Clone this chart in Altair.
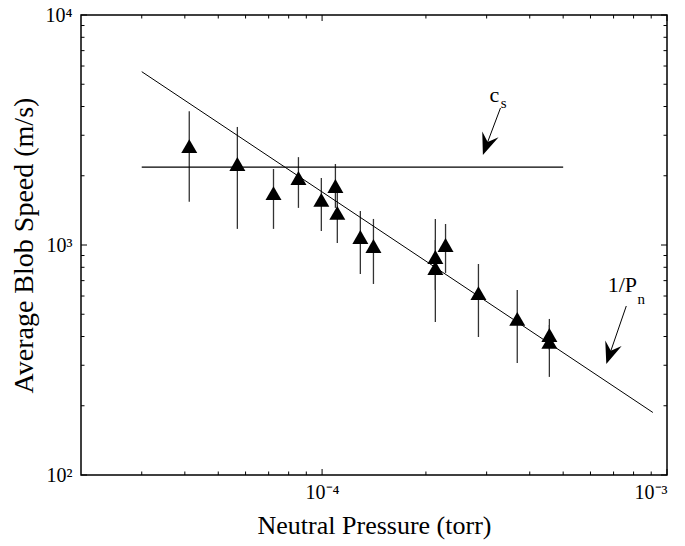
import altair as alt
import pandas as pd

# ---- data ----
pressure = [4.12e-5, 5.68e-5, 7.23e-5, 8.54e-5, 9.95e-5, 1.093e-4, 1.107e-4, 1.291e-4,
            1.409e-4, 2.13e-4, 2.13e-4, 2.28e-4, 2.84e-4, 3.68e-4, 4.56e-4, 4.56e-4]
speed    = [2690, 2250, 1680, 1955, 1570, 1805, 1380, 1083, 990, 887, 794, 1000, 618, 477, 406, 379]
speed_lo = [1540, 1175, 1175, 1450, 1150, 1450, 1020, 748, 677, 637, 463, 756, 398, 307, 350, 267]
speed_hi = [3820, 3260, 2140, 2410, 1955, 2250, 1734, 1406, 1298, 1298, 1051, 1234, 827, 637, 477, 449]

cs_x = [3.0e-5, 5.0e-4]
cs_y = [2180, 2180]
pn_x = [3.0e-5, 9.1e-4]
pn_y = [5670, 187]

x_major = [1e-4, 1e-3]
x_minor = [3e-5, 4e-5, 5e-5, 6e-5, 7e-5, 8e-5, 9e-5,
           2e-4, 3e-4, 4e-4, 5e-4, 6e-4, 7e-4, 8e-4, 9e-4]
y_major = [100, 1000, 10000]
y_minor = [200, 300, 400, 500, 600, 700, 800, 900,
           2000, 3000, 4000, 5000, 6000, 7000, 8000, 9000]

# annotations (arrow shafts, arrowheads, labels)
arrow_x0 = [3.29e-4, 7.62e-4]
arrow_y0 = [3942, 543]
arrow_x1 = [3.0e-4, 6.83e-4]
arrow_y1 = [2729, 337]
arrow_angle = [20, 19]
lab_main = ["c", "1/P"]
lab_main_x = [3.16e-4, 7.42e-4]
lab_main_y = [4489, 670]
lab_sub = ["s", "n"]
lab_sub_x = [3.36e-4, 8.42e-4]
lab_sub_y = [4143, 582]

W, H = 586, 460
FONT = "Liberation Serif"
XS = alt.Scale(type="log", domain=[2e-5, 1e-3])
YS = alt.Scale(type="log", domain=[100, 10000])

X_AXIS = alt.Axis(values=x_major, title="Neutral Pressure (torr)", grid=False, domain=False,
                  ticks=False, labelFont=FONT, labelFontSize=20, labelColor="black",
                  labelPadding=7, labelOverlap=False,
                  labelExpr="datum.value < 5e-4 ? '10⁻⁴' : '10⁻³'",
                  titleFont=FONT, titleFontSize=26, titleFontWeight="normal", titleColor="black",
                  titleX=W / 2, titleY=50, titleBaseline="middle", titleAlign="center")
Y_AXIS = alt.Axis(values=y_major, title="Average Blob Speed (m/s)", grid=False, domain=False,
                  ticks=False, labelFont=FONT, labelFontSize=20, labelColor="black",
                  labelPadding=9, labelOverlap=False,
                  labelExpr="datum.value < 500 ? '10²' : (datum.value < 5000 ? '10³' : '10⁴')",
                  titleFont=FONT, titleFontSize=28, titleFontWeight="normal", titleColor="black",
                  titleX=-57, titleY=H / 2, titleAngle=270, titleBaseline="middle",
                  titleAlign="center")


def X(field):
    return alt.X(field, scale=XS, axis=X_AXIS)


def Y(field):
    return alt.Y(field, scale=YS, axis=Y_AXIS)


pts = pd.DataFrame({"p": pressure, "v": speed, "lo": speed_lo, "hi": speed_hi})

errbars = alt.Chart(pts).mark_rule(color="#333", strokeWidth=1.3).encode(
    x=X("p:Q"), y=Y("lo:Q"), y2="hi:Q")
markers = alt.Chart(pts).mark_point(shape="triangle-up", filled=True, color="black",
                                     size=256, opacity=1).encode(x=X("p:Q"), y=Y("v:Q"))

cs_line = alt.Chart(pd.DataFrame({"x": cs_x, "y": cs_y})).mark_line(
    color="black", strokeWidth=1.2).encode(x=X("x:Q"), y=Y("y:Q"))
pn_line = alt.Chart(pd.DataFrame({"x": pn_x, "y": pn_y})).mark_line(
    color="black", strokeWidth=1.0).encode(x=X("x:Q"), y=Y("y:Q"))

ann = pd.DataFrame({"x0": arrow_x0, "y0": arrow_y0, "x1": arrow_x1, "y1": arrow_y1,
                    "ang": arrow_angle})
shafts = alt.Chart(ann).mark_rule(color="black", strokeWidth=1.0).encode(
    x=X("x0:Q"), y=Y("y0:Q"), x2="x1:Q", y2="y1:Q")
heads = alt.Chart(ann).mark_point(
    shape="M0,1 L-0.79,-1 L0,-0.27 L0.79,-1 Z", filled=True, color="black",
    size=484, opacity=1).encode(
    x=X("x1:Q"), y=Y("y1:Q"), angle=alt.Angle("ang:Q", scale=None))

labs = pd.DataFrame({"t": lab_main, "x": lab_main_x, "y": lab_main_y})
subs = pd.DataFrame({"t": lab_sub, "x": lab_sub_x, "y": lab_sub_y})
lab_main_layer = alt.Chart(labs).mark_text(font=FONT, fontSize=22, color="black").encode(
    x=X("x:Q"), y=Y("y:Q"), text="t:N")
lab_sub_layer = alt.Chart(subs).mark_text(font=FONT, fontSize=15, color="black").encode(
    x=X("x:Q"), y=Y("y:Q"), text="t:N")


def xticks(vals, y0, y1):
    return alt.Chart(pd.DataFrame({"t": vals})).mark_rule(color="black", strokeWidth=1).encode(
        x=X("t:Q"), y=alt.value(y0), y2=alt.value(y1))


def yticks(vals, x0, x1):
    return alt.Chart(pd.DataFrame({"t": vals})).mark_rule(color="black", strokeWidth=1).encode(
        y=Y("t:Q"), x=alt.value(x0), x2=alt.value(x1))


tick_layers = [
    xticks(x_major, H, H - 6), xticks(x_minor, H, H - 3.5),
    xticks(x_major, 0, 6), xticks(x_minor, 0, 3.5),
    yticks(y_major, 0, 6), yticks(y_minor, 0, 3.5),
    yticks(y_major, W, W - 6), yticks(y_minor, W, W - 3.5),
]

chart = alt.layer(
    errbars, cs_line, pn_line, markers, shafts, heads, lab_main_layer, lab_sub_layer,
    *tick_layers
).properties(
    width=W, height=H,
    autosize=alt.AutoSizeParams(type="none"),
    padding={"left": 81, "top": 15, "right": 18, "bottom": 71},
    background="white",
).configure_view(stroke="black", strokeWidth=1.5, fill="white")

chart.save("out.html", embed_options={"renderer": "svg", "actions": False})
